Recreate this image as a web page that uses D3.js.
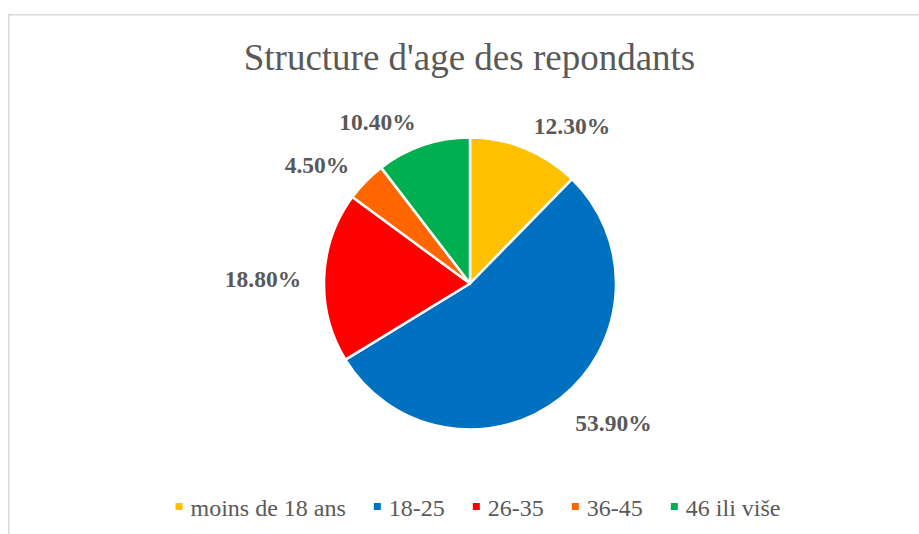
<!DOCTYPE html>
<html>
<head>
<meta charset="utf-8">
<script src="https://cdn.jsdelivr.net/npm/d3@7"></script>
<style>
  body { margin: 0; background: #fff; }
  svg text { font-family: "Liberation Serif", "Times New Roman", serif; }
</style>
</head>
<body>
<div id="chart"></div>
<script>
const categories = ['moins de 18 ans', '18-25', '26-35', '36-45', '46 ili više'];
const values = [12.3, 53.9, 18.8, 4.5, 10.4];
const labels = ['12.30%', '53.90%', '18.80%', '4.50%', '10.40%'];
const colors = ['#FFC000', '#0070C0', '#FF0000', '#FF6600', '#00B050'];
const title = "Structure d'age des repondants";

const width = 919, height = 534;
const cx = 470, cy = 283.5, radius = 146;

const svg = d3.select('#chart')
  .append('svg')
  .attr('width', width)
  .attr('height', height);

// chart frame (cut off on right/bottom like the screenshot)
svg.append('rect')
  .attr('x', 8.75)
  .attr('y', 14.75)
  .attr('width', width)
  .attr('height', height)
  .attr('fill', '#fff')
  .attr('stroke', '#d9d9d9')
  .attr('stroke-width', 1.5);

svg.append('text')
  .attr('x', 469.5)
  .attr('y', 70)
  .attr('text-anchor', 'middle')
  .attr('font-size', 37)
  .attr('fill', '#595959')
  .text(title);

const data = categories.map((c, i) => ({ name: c, value: values[i], label: labels[i], color: colors[i] }));

const pie = d3.pie().value(d => d.value).sort(null);
const arc = d3.arc().innerRadius(0).outerRadius(radius);
const arcs = pie(data);

const g = svg.append('g').attr('transform', `translate(${cx},${cy})`);

g.selectAll('path')
  .data(arcs)
  .enter()
  .append('path')
  .attr('d', arc)
  .attr('fill', d => d.data.color)
  .attr('stroke', '#fff')
  .attr('stroke-width', 2.5)
  .attr('stroke-linejoin', 'round');

// labels outside end, anchored away from the pie
const labelR = 169;
const midAngle = d => (d.startAngle + d.endAngle) / 2;

g.selectAll(null)
  .data(arcs)
  .enter()
  .append('text')
  .attr('x', d => labelR * Math.sin(midAngle(d)))
  .attr('y', d => -labelR * Math.cos(midAngle(d)) - Math.cos(midAngle(d)) * 5 + 3)
  .attr('dy', '0.35em')
  .attr('text-anchor', d => Math.sin(midAngle(d)) >= 0 ? 'start' : 'end')
  .style('font-size', '23.5px')
  .style('font-weight', 'bold')
  .style('fill', '#595959')
  .text(d => d.data.label);

// legend
const legend = svg.append('g');
const items = legend.selectAll('g')
  .data(data)
  .enter()
  .append('g');

items.append('rect')
  .attr('width', 7)
  .attr('height', 7)
  .attr('y', 503)
  .attr('fill', d => d.color);

items.append('text')
  .attr('x', 15)
  .attr('y', 516)
  .attr('font-size', 24)
  .attr('fill', '#595959')
  .text(d => d.name);

let xPos = 0;
items.each(function () {
  const w = this.getBBox().width;
  d3.select(this).attr('transform', `translate(${xPos},0)`);
  xPos += w + 28;
});
const totalW = xPos - 28;
legend.attr('transform', `translate(${478 - totalW / 2},0)`);
</script>
</body>
</html>
